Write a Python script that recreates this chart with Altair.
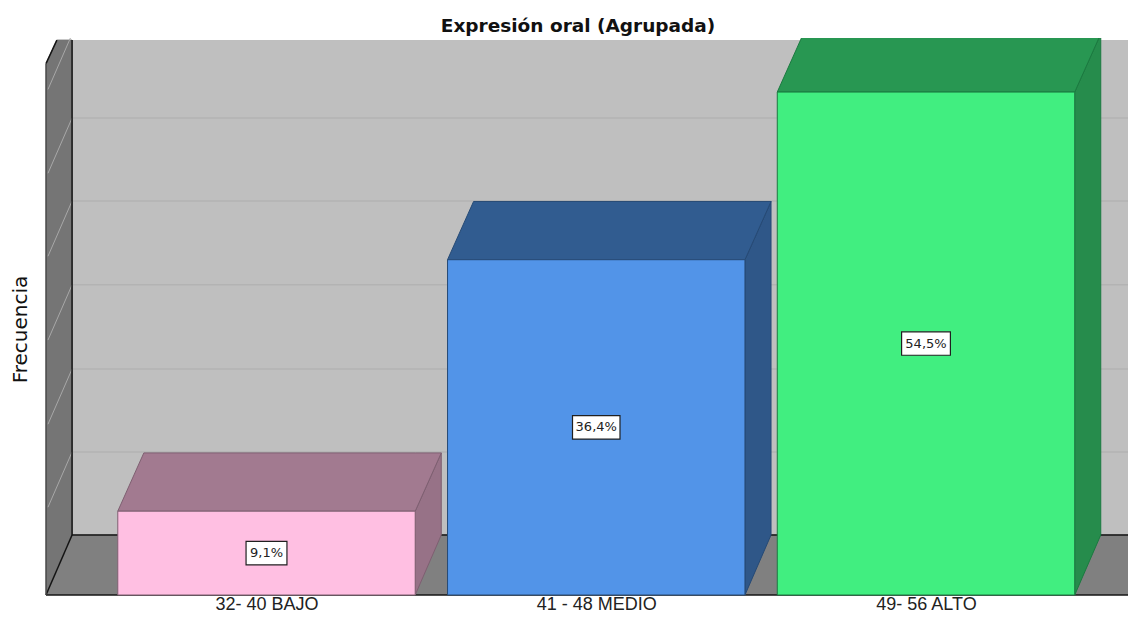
import altair as alt
import pandas as pd

categories = ["32- 40 BAJO", "41 - 48 MEDIO", "49- 56 ALTO"]
positions = [1.0, 2.0, 3.0]
counts = [1, 4, 6]
percent_labels = ["9,1%", "36,4%", "54,5%"]
front_colors = ["#FFBFE2", "#5294E8", "#41EE80"]
top_colors = ["#A27A90", "#315C90", "#289752"]
side_colors = ["#977287", "#2F5788", "#268C4C"]
edge_colors = ["#7E5F71", "#264A75", "#1B7A40"]
label_half_widths = [0.062, 0.072, 0.074]
grid_levels = [1.706, 2.696, 3.70, 4.70, 5.69]
wall_grid_levels = [1.706, 2.696, 3.70, 4.70, 5.69, 6.69]

BAR_HALF = 0.451
DEPTH_X = 0.079
DEPTH_Y = 0.716
TOP_DEPTH_Y = 0.695
X_MIN, X_MAX = 0.3313, 3.6126
Y_MAX = 6.645
WALL_TOP = 6.62
WALL_BACK_X = X_MIN + DEPTH_X
WALL_MID_X = X_MIN + 0.033
WALL_FRONT_TOP = 6.34
LABEL_HALF_H = 0.14

xs = alt.Scale(domain=[X_MIN, X_MAX], nice=False, zero=False)
ys = alt.Scale(domain=[0, Y_MAX], nice=False, zero=False)
label_map = "{" + ",".join(f"'{p:g}':'{c}'" for p, c in zip(positions, categories)) + "}"
x_axis = alt.Axis(
    values=positions, labelExpr=f"{label_map}[datum.value]", domain=False, ticks=False, grid=False,
    labelFont="Liberation Sans", labelFontSize=18, labelColor="#222222", labelPadding=0, labelFlush=False,
    title=None)
y_axis = alt.Axis(
    labels=False, domain=False, ticks=False, grid=False, title="Frecuencia",
    titleFont="DejaVu Sans", titleFontSize=20, titleFontWeight="normal", titleColor="#111111",
    titleX=-16, titleY=291)
X = alt.X("x:Q", scale=xs, axis=x_axis)
Y = alt.Y("y:Q", scale=ys, axis=y_axis)

poly = []
def add(group, color, stroke, pts):
    for (x, y, y2) in pts:
        poly.append(dict(group=group, color=color, stroke=stroke, x=x, y=y, y2=y2))

add("wall", "#757575", "#757575", [
    (X_MIN, 0, WALL_FRONT_TOP),
    (WALL_MID_X, DEPTH_Y * 0.42, WALL_TOP),
    (WALL_BACK_X, DEPTH_Y, WALL_TOP),
])
add("floor", "#808080", "#808080", [
    (X_MIN, 0, 0),
    (WALL_BACK_X, 0, DEPTH_Y),
    (X_MAX, 0, DEPTH_Y),
])
for i, pos in enumerate(positions):
    x0, x1 = pos - BAR_HALF, pos + BAR_HALF
    v = counts[i]
    add(f"side{i}", side_colors[i], edge_colors[i], [
        (x1, 0, v), (x1 + DEPTH_X, DEPTH_Y, v + TOP_DEPTH_Y),
    ])
    add(f"top{i}", top_colors[i], edge_colors[i], [
        (x0, v, v),
        (x0 + DEPTH_X, v, v + TOP_DEPTH_Y),
        (x1, v, v + TOP_DEPTH_Y),
        (x1 + DEPTH_X, v + TOP_DEPTH_Y, v + TOP_DEPTH_Y),
    ])
poly_df = pd.DataFrame(poly)
walls_df = poly_df[poly_df.group.isin(["wall", "floor"])]
faces_df = poly_df[~poly_df.group.isin(["wall", "floor"])]

def areas(df):
    return alt.Chart(df).mark_area(orient="vertical", clip=True, strokeWidth=1, interpolate="linear").encode(
        x=X, y=Y, y2="y2:Q",
        fill=alt.Fill("color:N", scale=None),
        stroke=alt.Stroke("stroke:N", scale=None),
        detail="group:N",
    )

back_df = pd.DataFrame({"x": [WALL_BACK_X], "x2": [X_MAX], "y": [DEPTH_Y], "y2": [WALL_TOP]})
back = alt.Chart(back_df).mark_rect(color="#BFBFBF", clip=True).encode(
    x=X, x2="x2:Q", y=Y, y2="y2:Q")

grid_df = pd.DataFrame({"x": [WALL_BACK_X] * len(grid_levels), "x2": [X_MAX] * len(grid_levels),
                        "y": grid_levels})
grid = alt.Chart(grid_df).mark_rule(color="#B3B3B3", strokeWidth=1.5).encode(x=X, x2="x2:Q", y=Y)

wall_rows = []
for k in wall_grid_levels:
    wall_rows.append(dict(k=k, x=X_MIN + 0.006, y=k - DEPTH_Y * 0.92))
    wall_rows.append(dict(k=k, x=WALL_BACK_X, y=k))
wall_grid = alt.Chart(pd.DataFrame(wall_rows)).mark_line(color="#A8A8A8", strokeWidth=1, clip=True).encode(
    x=X, y=Y, detail="k:N")

edges = pd.DataFrame([
    dict(e="back", x=WALL_BACK_X, y=DEPTH_Y),
    dict(e="back", x=X_MAX, y=DEPTH_Y),
    dict(e="corner", x=WALL_BACK_X, y=DEPTH_Y),
    dict(e="corner", x=WALL_BACK_X, y=WALL_TOP),
    dict(e="diag", x=X_MIN, y=0),
    dict(e="diag", x=WALL_BACK_X, y=DEPTH_Y),
    dict(e="slant", x=X_MIN, y=WALL_FRONT_TOP),
    dict(e="slant", x=WALL_MID_X, y=WALL_TOP),
    dict(e="front", x=X_MIN, y=0),
    dict(e="front", x=X_MAX, y=0),
])
edge_lines = alt.Chart(edges).mark_line(color="#141414", strokeWidth=1.5, clip=False).encode(
    x=X, y=Y, detail="e:N")
outer = pd.DataFrame({"x": [X_MIN, X_MIN], "y": [0, WALL_FRONT_TOP]})
outer_line = alt.Chart(outer).mark_line(color="#4A4A4A", strokeWidth=1.5).encode(x=X, y=Y)

bar_df = pd.DataFrame({
    "x": [p - BAR_HALF for p in positions],
    "x2": [p + BAR_HALF for p in positions],
    "y": [0, 0, 0],
    "y2": counts,
    "color": front_colors,
    "stroke": edge_colors,
})
fronts = alt.Chart(bar_df).mark_rect(strokeWidth=1).encode(
    x=X, x2="x2:Q", y=Y, y2="y2:Q",
    fill=alt.Fill("color:N", scale=None),
    stroke=alt.Stroke("stroke:N", scale=None),
)

label_df = pd.DataFrame({
    "pos": positions,
    "x": [p - w for p, w in zip(positions, label_half_widths)],
    "x2": [p + w for p, w in zip(positions, label_half_widths)],
    "y": [c / 2 - LABEL_HALF_H for c in counts],
    "y2": [c / 2 + LABEL_HALF_H for c in counts],
    "mid": [c / 2 for c in counts],
    "label": percent_labels,
})
boxes = alt.Chart(label_df).mark_rect(fill="white", stroke="#202020", strokeWidth=1.2).encode(
    x=X, x2="x2:Q", y=Y, y2="y2:Q")
texts = alt.Chart(label_df).mark_text(font="DejaVu Sans", fontSize=13, color="#222222").encode(
    x=alt.X("pos:Q", scale=xs, axis=x_axis), y=alt.Y("mid:Q", scale=ys, axis=y_axis), text="label:N")

chart = alt.layer(
    back, grid, areas(walls_df), wall_grid, edge_lines, outer_line,
    areas(faces_df), fronts, boxes, texts,
).properties(
    width=1082, height=557,
    title=alt.TitleParams("Expresión oral (Agrupada)", font="DejaVu Sans", fontSize=18.5, fontWeight="bold",
                          color="#111111", anchor="middle", dx=-9, offset=2),
    padding={"left": 38, "top": 30, "right": 0, "bottom": 19},
    autosize=alt.AutoSizeParams(type="none"),
    background="white",
).configure_view(stroke=None)

chart.save("out.html", embed_options={"renderer": "svg", "actions": False})
